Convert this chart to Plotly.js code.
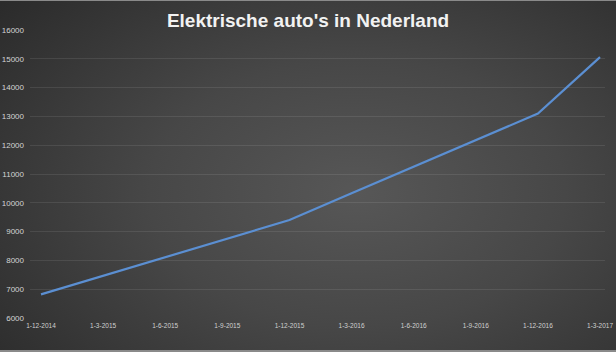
<!DOCTYPE html>
<html>
<head>
<meta charset="utf-8">
<script src="https://cdn.plot.ly/plotly-3.0.1.min.js"></script>
<style>
  html, body { margin: 0; padding: 0; background: #2b2b2b; }
  #chart {
    width: 616px; height: 352px; box-sizing: border-box;
    border-top: 1px solid #8a8a8a; border-bottom: 2px solid #8a8a8a;
    background: radial-gradient(ellipse 75% 85% at 58% 55%, #575757 0%, #474747 45%, #2b2b2b 100%);
  }
</style>
</head>
<body>
<div id="chart"></div>
<script>
const categories = ["1-12-2014", "1-3-2015", "1-6-2015", "1-9-2015", "1-12-2015",
                    "1-3-2016", "1-6-2016", "1-9-2016", "1-12-2016", "1-3-2017"];
const values = [6820, 7460, 8110, 8750, 9400, 10330, 11260, 12180, 13100, 15060];
const yTicks = [6000, 7000, 8000, 9000, 10000, 11000, 12000, 13000, 14000, 15000, 16000];
const titleText = "Elektrische auto's in Nederland";

const trace = {
  x: categories,
  y: values,
  type: 'scatter',
  mode: 'lines',
  line: { color: '#5b8fd2', width: 2.2 },
  hoverinfo: 'skip'
};

const layout = {
  width: 616, height: 349,
  paper_bgcolor: 'rgba(0,0,0,0)',
  plot_bgcolor: 'rgba(0,0,0,0)',
  margin: { l: 30, r: 11, t: 29, b: 32 },
  showlegend: false,
  title: {
    text: '<b>' + titleText + '</b>',
    font: { family: 'Liberation Sans, Arial, sans-serif', size: 19, color: '#f2f2f2' },
    x: 0.5, xanchor: 'center', y: 0.945, yanchor: 'middle'
  },
  xaxis: {
    type: 'category',
    range: [-0.177, 9.08],
    showgrid: false, zeroline: false, showline: false,
    ticks: '',
    tickfont: { family: 'Liberation Sans Narrow, Liberation Sans, Arial, sans-serif', size: 6.5, color: '#d0d0d0' },
    ticklabelstandoff: 2
  },
  yaxis: {
    range: [6000, 16000],
    tickvals: yTicks,
    ticktext: yTicks.map(String),
    showgrid: true, gridcolor: 'rgba(255,255,255,0.09)', gridwidth: 1,
    zeroline: false, showline: false,
    ticks: '',
    tickfont: { family: 'Liberation Sans, Arial, sans-serif', size: 8, color: '#d4d4d4' },
    ticklabelstandoff: 5
  }
};

Plotly.newPlot('chart', [trace], layout, { staticPlot: true, displayModeBar: false });
</script>
</body>
</html>
